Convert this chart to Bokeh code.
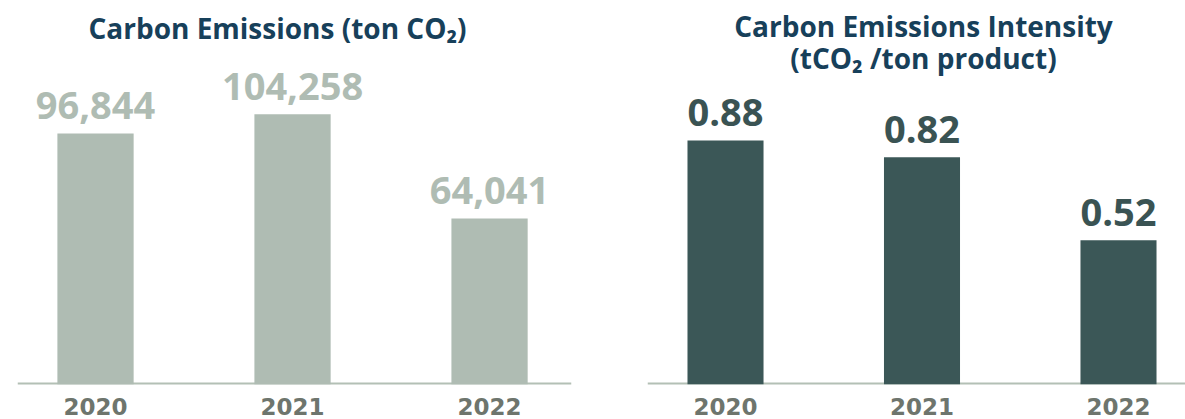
from bokeh.plotting import figure
from bokeh.layouts import row
from bokeh.models import Range1d, FixedTicker, ColumnDataSource, Label, LabelSet, Span
from bokeh.core.properties import value
from bokeh.embed import file_html
from bokeh.resources import INLINE

years = ["2020", "2021", "2022"]
emissions = [96844, 104258, 64041]
emission_labels = ["96,844", "104,258", "64,041"]
intensity = [0.88, 0.82, 0.52]
intensity_labels = ["0.88", "0.82", "0.52"]

FONT = "Open Sans"
TITLE_COLOR = "#17405a"
AXIS_COLOR = "#b3c0b5"
YEAR_COLOR = "#6e756d"


def make(width, bl, br, xr, yend, vals, labels, bar_color, label_color, titles):
    idx = list(range(len(years)))
    src = ColumnDataSource(dict(x=idx, top=vals, label=labels))
    p = figure(width=width, height=419, x_range=Range1d(*xr), y_range=Range1d(0, yend),
               output_backend="svg", toolbar_location=None,
               min_border_left=bl, min_border_right=br, min_border_top=0, min_border_bottom=35)
    p.add_layout(Span(location=0, dimension="width", line_color=AXIS_COLOR, line_width=4,
                      level="underlay"))
    p.vbar(x="x", top="top", bottom=0, width=0.387, source=src,
           fill_color=bar_color, line_color=None)
    p.add_layout(LabelSet(x="x", y="top", text="label", source=src, text_align="center",
                          text_baseline="middle", y_offset=28,
                          text_font=value(FONT), text_font_style="bold",
                          text_font_size="38px", text_color=label_color))
    p.yaxis.visible = False
    p.grid.visible = False
    p.outline_line_color = None
    p.background_fill_color = "white"
    p.border_fill_color = "white"
    ax = p.xaxis[0]
    ax.ticker = FixedTicker(ticks=idx)
    ax.major_label_overrides = {i: y for i, y in zip(idx, years)}
    ax.axis_line_color = None
    ax.major_tick_line_color = None
    ax.minor_tick_line_color = None
    ax.major_label_standoff = 7
    ax.major_label_text_font = "DejaVu Sans"
    ax.major_label_text_font_style = "bold"
    ax.major_label_text_font_size = "23px"
    ax.major_label_text_color = YEAR_COLOR
    for (txt, sx, sy) in titles:
        p.add_layout(Label(x=sx, y=sy, x_units="screen", y_units="screen", text=txt,
                           text_align="center", text_baseline="middle",
                           text_font=FONT, text_font_style="bold", text_font_size="28px",
                           text_color=TITLE_COLOR))
    return p


p1 = make(600, 17, 29, (-0.396, 2.416), 148100, emissions, emission_labels,
          "#afbcb3", "#afbcb3",
          [("Carbon Emissions (ton CO\u2082)", 260, 357)])
p2 = make(585, 47, 0, (-0.397, 2.341), 1.385, intensity, intensity_labels,
          "#3b5757", "#3a5353",
          [("Carbon Emissions Intensity", 276, 359),
           ("(tCO\u2082 /ton product)", 276, 327)])

layout = row(p1, p2)
open("out.html", "w").write(file_html(layout, INLINE))
